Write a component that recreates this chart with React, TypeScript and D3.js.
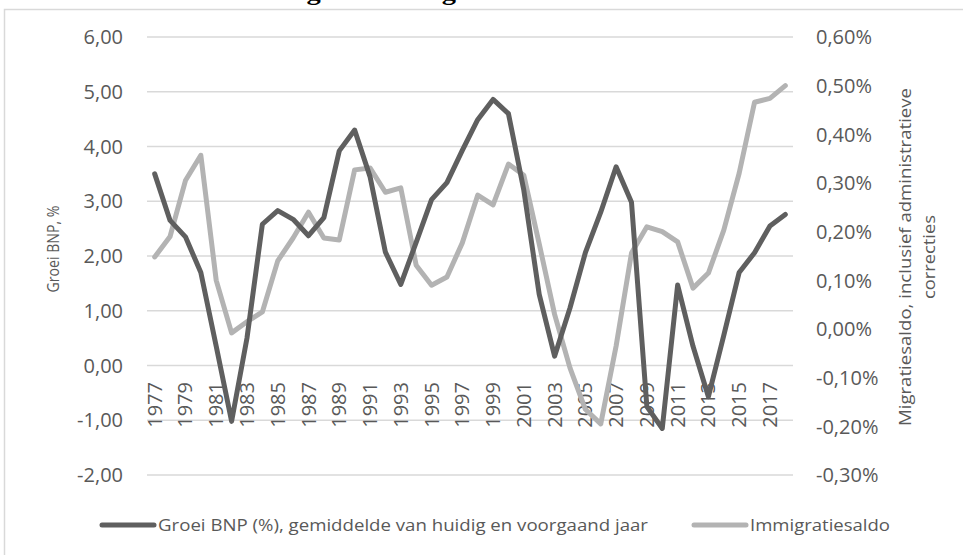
import React from "react";
import * as d3 from "d3";

const years: number[] = d3.range(1977, 2019);
const bnpGrowth: number[] = [
  3.5, 2.65, 2.35, 1.7, 0.35, -1.02, 0.5, 2.58, 2.83, 2.67, 2.37, 2.7, 3.92, 4.3,
  3.45, 2.07, 1.48, 2.25, 3.03, 3.34, 3.93, 4.49, 4.86, 4.6, 3.2, 1.3, 0.17, 1.05,
  2.06, 2.8, 3.63, 2.98, -0.75, -1.15, 1.47, 0.35, -0.57, 0.55, 1.7, 2.06, 2.55, 2.76,
];
const migration: number[] = [
  0.148, 0.19, 0.305, 0.357, 0.1, -0.008, 0.015, 0.035, 0.14, 0.187, 0.24, 0.187,
  0.183, 0.327, 0.331, 0.281, 0.29, 0.131, 0.09, 0.107, 0.177, 0.275, 0.255, 0.339,
  0.316, 0.175, 0.03, -0.08, -0.165, -0.195, -0.035, 0.156, 0.21, 0.2, 0.179, 0.084,
  0.115, 0.203, 0.32, 0.466, 0.474, 0.5,
];
const leftTicks: number[] = [-2, -1, 0, 1, 2, 3, 4, 5, 6];
const rightTicks: number[] = [-0.3, -0.2, -0.1, 0, 0.1, 0.2, 0.3, 0.4, 0.5, 0.6];
const seriesNames: string[] = [
  "Groei BNP (%), gemiddelde van huidig en voorgaand jaar",
  "Immigratiesaldo",
];
const titleText = "Grafiek 4: Economische groei en migratiesaldo in Nederland";
const leftAxisTitle = "Groei BNP, %";
const rightAxisTitle: string[] = ["Migratiesaldo, inclusief administratieve", "correcties"];

const DARK = "#5f5f5f";
const LIGHT = "#b3b3b3";
const GRID = "#d9d9d9";
const TEXT = "#595959";
const FONT = "'Open Sans', sans-serif";

export default function App() {
  const x = d3.scalePoint<number>().domain(years).range([147, 793]).padding(0.5);
  const yL = d3.scaleLinear().domain([-2, 6]).range([475, 37]);
  const yR = d3.scaleLinear().domain([-0.3, 0.6]).range([475, 37]);

  const lineL = d3
    .line<number>()
    .x((_, i) => x(years[i]) as number)
    .y((d) => yL(d));
  const lineR = d3
    .line<number>()
    .x((_, i) => x(years[i]) as number)
    .y((d) => yR(d));

  const fmtL = (v: number) => v.toFixed(2).replace(".", ",");
  const fmtR = (v: number) => (v.toFixed(2) === "-0.00" ? "0.00" : v.toFixed(2)).replace(".", ",") + "%";

  return (
    <svg
      width={963}
      height={555}
      style={{ position: "absolute", left: 0, top: 0, background: "#fff" }}
    >
      <rect x={0} y={0} width={963} height={555} fill="#fff" />
      <text
        x={7}
        y={0}
        fontFamily="'Liberation Serif', serif"
        fontWeight="bold"
        fontSize={24}
        fill="#000"
        textLength={735}
        lengthAdjust="spacingAndGlyphs"
      >
        {titleText}
      </text>
      <rect x={4.5} y={9.5} width={1000} height={600} fill="none" stroke={GRID} strokeWidth={1.5} />

      {leftTicks.map((t) => (
        <line key={"g" + t} x1={147} x2={793} y1={yL(t)} y2={yL(t)} stroke={GRID} strokeWidth={1.5} />
      ))}

      {leftTicks.map((t) => (
        <text
          key={"l" + t}
          x={123}
          y={yL(t)}
          dy="0.36em"
          textAnchor="end"
          fontFamily={FONT}
          fontSize={20}
          fill={TEXT}
        >
          {fmtL(t)}
        </text>
      ))}
      {rightTicks.map((t) => (
        <text
          key={"r" + t}
          x={816}
          y={yR(t)}
          dy="0.36em"
          textAnchor="start"
          fontFamily={FONT}
          fontSize={20}
          fill={TEXT}
        >
          {fmtR(t)}
        </text>
      ))}

      {years
        .filter((yr) => (yr - 1977) % 2 === 0)
        .map((yr) => (
          <text
            key={"x" + yr}
            transform={`translate(${(x(yr) as number) + 7},382) rotate(-90)`}
            textAnchor="end"
            fontFamily={FONT}
            fontSize={20}
            fill={TEXT}
          >
            {yr}
          </text>
        ))}

      <path d={lineR(migration) || ""} fill="none" stroke={LIGHT} strokeWidth={5} strokeLinejoin="round" strokeLinecap="round" />
      <path d={lineL(bnpGrowth) || ""} fill="none" stroke={DARK} strokeWidth={5} strokeLinejoin="round" strokeLinecap="round" />

      <text
        transform="translate(59,249) rotate(-90)"
        textAnchor="middle"
        fontFamily={FONT}
        fontSize={17}
        fill={TEXT}
        textLength={87}
        lengthAdjust="spacingAndGlyphs"
      >
        {leftAxisTitle}
      </text>
      <text
        transform="translate(911,257) rotate(-90)"
        textAnchor="middle"
        fontFamily={FONT}
        fontSize={17}
        fill={TEXT}
        textLength={338}
        lengthAdjust="spacingAndGlyphs"
      >
        {rightAxisTitle[0]}
      </text>
      <text
        transform="translate(935,257) rotate(-90)"
        textAnchor="middle"
        fontFamily={FONT}
        fontSize={17}
        fill={TEXT}
        textLength={84}
        lengthAdjust="spacingAndGlyphs"
      >
        {rightAxisTitle[1]}
      </text>

      <line x1={102} x2={154} y1={525} y2={525} stroke={DARK} strokeWidth={5} strokeLinecap="round" />
      <text x={158} y={531} fontFamily={FONT} fontSize={17} fill={TEXT} textLength={490} lengthAdjust="spacingAndGlyphs">
        {seriesNames[0]}
      </text>
      <line x1={694} x2={746} y1={525} y2={525} stroke={LIGHT} strokeWidth={5} strokeLinecap="round" />
      <text x={750} y={531} fontFamily={FONT} fontSize={17} fill={TEXT} textLength={140} lengthAdjust="spacingAndGlyphs">
        {seriesNames[1]}
      </text>
    </svg>
  );
}
